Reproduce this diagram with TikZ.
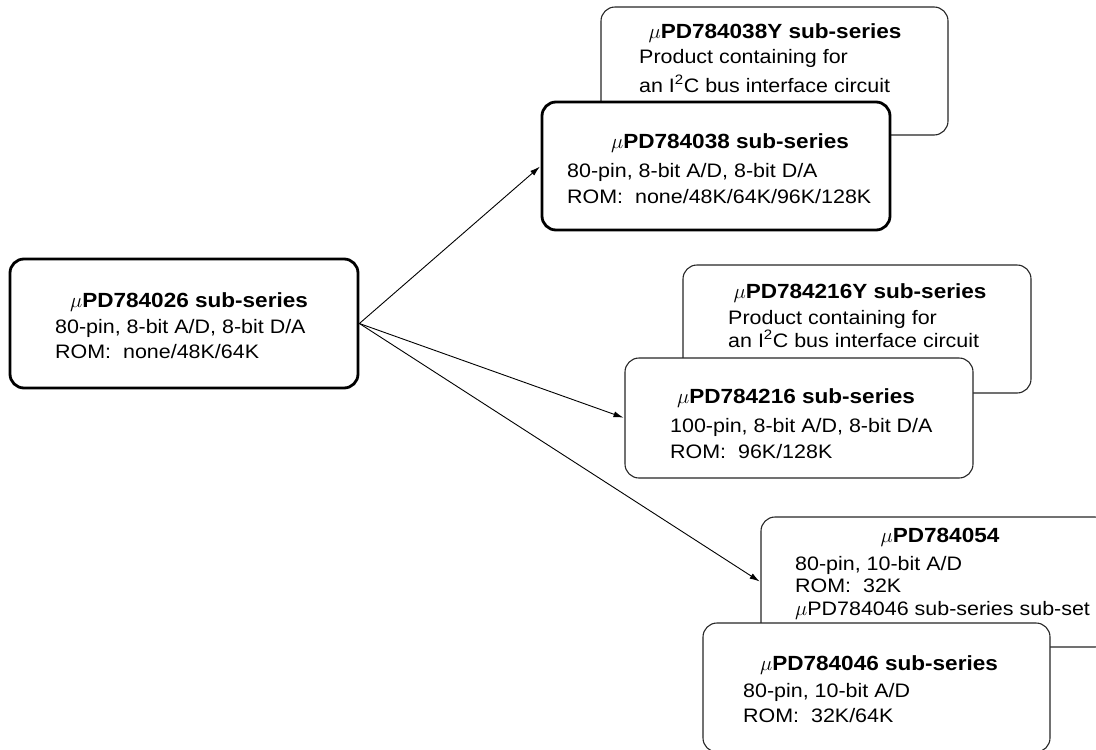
\documentclass[tikz,border=0pt]{standalone}
\usepackage{fontspec}
\setmainfont[FakeStretch=1.1]{Liberation Sans}
\usetikzlibrary{arrows.meta}
\tikzset{
  boxbase/.style={rectangle, rounded corners=14pt, fill=white, inner sep=0pt},
  thickbox/.style={boxbase, draw=black, line width=2.8pt},
  thinbox/.style={boxbase, draw=black!85, line width=1.1pt},
  ttl/.style={anchor=base, inner sep=0pt, font=\fontsize{20.5}{25}\selectfont\bfseries},
  txt/.style={anchor=base west, inner sep=0pt, font=\fontsize{19.5}{24}\selectfont},
  conn/.style={line width=0.9pt, -{Latex[length=10pt,width=6pt]}, shorten >=1pt}
}
\begin{document}
\begin{tikzpicture}[x=1pt,y=-1pt]
\useasboundingbox (0,0) rectangle (1096,750);
\clip (0,0) rectangle (1096,750);

% left box
\node[thickbox, minimum width=348pt, minimum height=129pt] (A) at (184,323.5) {};
\node[ttl] (At) at (189,307) {$\mu$PD784026 sub-series};
\node[txt] (A1) at (55,333) {80-pin, 8-bit A/D, 8-bit D/A};
\node[txt] (A2) at (55,358) {ROM:~ none/48K/64K};

% 784038Y (back)
\node[thinbox, minimum width=347pt, minimum height=128pt] (B38Y) at (774.5,71) {};
\node[ttl] (B38Yt) at (775,38) {$\mu$PD784038Y sub-series};
\node[txt] (B38Y1) at (639,63) {Product containing for};
\node[txt] (B38Y2) at (639,92) {an I\textsuperscript{2}C bus interface circuit};

% 784038 (front)
\node[thickbox, minimum width=348pt, minimum height=128pt] (B38) at (716,166) {};
\node[ttl] (B38t) at (730,148) {$\mu$PD784038 sub-series};
\node[txt] (B381) at (567,177) {80-pin, 8-bit A/D, 8-bit D/A};
\node[txt] (B382) at (567,203) {ROM:~ none/48K/64K/96K/128K};

% 784216Y (back)
\node[thinbox, minimum width=348pt, minimum height=128pt] (B216Y) at (857,329) {};
\node[ttl] (B216Yt) at (860,298) {$\mu$PD784216Y sub-series};
\node[txt] (B216Y1) at (728,324) {Product containing for};
\node[txt] (B216Y2) at (728,347) {an I\textsuperscript{2}C bus interface circuit};

% 784216 (front)
\node[thinbox, minimum width=348pt, minimum height=120pt] (B216) at (799,418) {};
\node[ttl] (B216t) at (796,403) {$\mu$PD784216 sub-series};
\node[txt] (B2161) at (670,432) {100-pin, 8-bit A/D, 8-bit D/A};
\node[txt] (B2162) at (670,458) {ROM:~ 96K/128K};

% 784054 (back)
\node[thinbox, minimum width=348pt, minimum height=130pt] (B054) at (935,582) {};
\node[ttl] (B054t) at (940,542) {$\mu$PD784054};
\node[txt] (B0541) at (795,570) {80-pin, 10-bit A/D};
\node[txt] (B0542) at (795,592) {ROM:~ 32K};
\node[txt] (B0543) at (795,615) {$\mu$PD784046 sub-series sub-set};

% 784046 (front)
\node[thinbox, minimum width=347pt, minimum height=129pt] (B046) at (876.5,687.5) {};
\node[ttl] (B046t) at (879,670) {$\mu$PD784046 sub-series};
\node[txt] (B0461) at (743,697) {80-pin, 10-bit A/D};
\node[txt] (B0462) at (743,722) {ROM:~ 32K/64K};

% connectors
\draw[conn] (A.east) -- (B38.west);
\draw[conn] (A.east) -- (B216.west);
\draw[conn] (A.east) -- (B054.west);
\end{tikzpicture}
\end{document}
